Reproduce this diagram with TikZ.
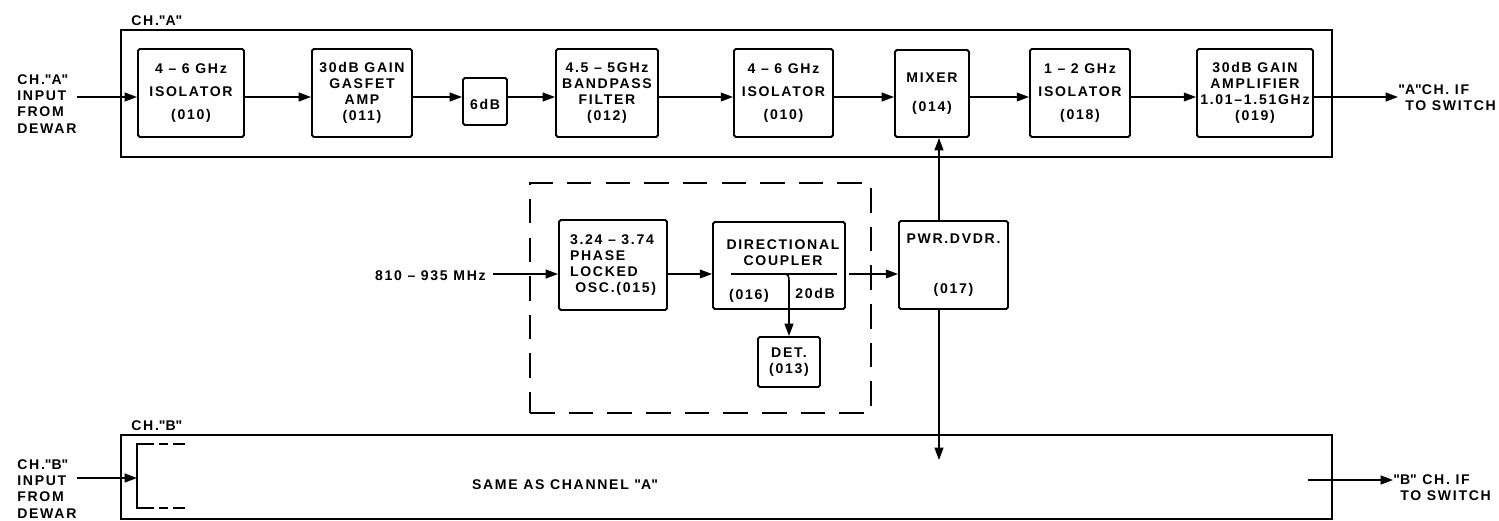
\documentclass[tikz,border=0pt]{standalone}
\usepackage{fontspec}
\setmainfont{Liberation Sans}[LetterSpace=12]
\usepackage{tikz}
\usetikzlibrary{
  positioning,
  arrows.meta,
  calc
}
\newcommand{\qt}[1]{\textquotedbl #1\textquotedbl}
\tikzset{
  >={Triangle[length=7pt,width=5pt]},
  sig/.style={->,line width=0.9pt},
  unit/.style={rectangle,draw,line width=1.1pt,rounded corners=1pt,align=center,inner sep=1pt,font=\fontsize{8}{9.2}\selectfont\bfseries},
  chan/.style={rectangle,draw,line width=1.2pt,inner sep=0pt},
  subsys/.style={rectangle,draw,line width=1.2pt,dash pattern=on 14pt off 8pt,inner sep=0pt},
  lbl/.style={align=left,inner sep=0pt,font=\fontsize{8}{9.2}\selectfont\bfseries}
}

\begin{document}
\begin{tikzpicture}[x=0.02cm, y=-0.02cm]
    \useasboundingbox (0,0) rectangle (1499,521);

    \coordinate (rowA) at (0,97);
    \coordinate (rowL) at (0,274);
    \coordinate (rowB) at (0,478);
    \coordinate (xL) at (939,0);

    \node[chan,minimum width=24.22cm,minimum height=2.54cm] (chA) at (726.5,93.5) {};
    \node[chan,minimum width=24.22cm,minimum height=1.68cm] (chB) at (726.5,477) {};
    \node[subsys,minimum width=6.82cm,minimum height=4.6cm] (pllUnit) at (700.5,298) {};
    \node[lbl,anchor=west] (chAname) at (131,21) {CH.\qt{A}};
    \node[lbl,anchor=west] (chBname) at (131,426) {CH.\qt{B}};

    \node[unit,minimum width=2.12cm,minimum height=1.76cm] (iso1) at (191,93) {4 -- 6 GHz\\[4pt]ISOLATOR\\[4pt](010)};
    \node[unit,minimum width=2.0cm,minimum height=1.76cm] (gasfet) at (362,93) {30dB GAIN\\GASFET\\AMP\\(011)};
    \node[unit,minimum width=0.88cm,minimum height=0.94cm] (att6) at (485,101.5) {\\6dB};
    \node[unit,minimum width=2.04cm,minimum height=1.76cm] (bpf) at (607,93) {4.5 -- 5GHz\\BANDPASS\\FILTER\\(012)};
    \node[unit,minimum width=1.98cm,minimum height=1.76cm] (iso2) at (783.5,93) {4 -- 6 GHz\\[4pt]ISOLATOR\\[4pt](010)};
    \node[unit,minimum width=1.48cm,minimum height=1.74cm] (mixer) at (932,93.5) {MIXER\\[7pt](014)};
    \node[unit,minimum width=2.0cm,minimum height=1.76cm] (iso3) at (1080,93) {1 -- 2 GHz\\[4pt]ISOLATOR\\[4pt](018)};
    \node[unit,minimum width=2.32cm,minimum height=1.76cm] (amp) at (1255,93) {30dB GAIN\\AMPLIFIER\\1.01--1.51GHz\\(019)};

    \node[lbl,anchor=west] (inA) at (17,104) {CH.\qt{A}\\INPUT\\FROM\\DEWAR};
    \node[lbl,anchor=west] (outA) at (1398,98) {\qt{A}CH. IF\\\hspace{4pt}TO SWITCH};

    \node[unit,align=left,minimum width=2.16cm,minimum height=1.8cm] (pll) at (613,265) {3.24 -- 3.74\\PHASE\\LOCKED\\\hspace{3pt}OSC.(015)};
    \node[unit,minimum width=2.64cm,minimum height=1.74cm] (dc) at (779,265.5) {};
    \node[lbl,align=center] (dcName) at (783,253) {DIRECTIONAL\\COUPLER};
    \node[lbl] (dcNum) at (749,296) {(016)};
    \node[lbl] (dcTap) at (815,293) {20dB};
    \node[unit,minimum width=1.24cm,minimum height=1.0cm] (det) at (789,362) {DET.\\(013)};
    \node[unit,minimum width=2.18cm,minimum height=1.76cm] (pwr) at (953.5,265) {PWR.DVDR.\\[19pt](017)};
    \node[lbl,anchor=east] (loIn) at (486,276) {810 -- 935 MHz};
    \coordinate (tapPt) at (781,274);
    \coordinate (dvB) at (939,460);

    \node[lbl,anchor=west] (inB) at (17,489) {CH.\qt{B}\\INPUT\\FROM\\DEWAR};
    \node[lbl,anchor=west] (outB) at (1393,488) {\qt{B} CH. IF\\\hspace{4pt}TO SWITCH};
    \node[lbl] (sameTxt) at (565,485) {SAME AS CHANNEL \qt{A}};
    \coordinate (bIn) at (137,478);
    \coordinate (bOut) at (1308,480);

    \draw[sig] (inA.east |- rowA) -- (iso1.west |- rowA);
    \draw[sig] (iso1.east |- rowA) -- (gasfet.west |- rowA);
    \draw[sig] (gasfet.east |- rowA) -- (att6.west |- rowA);
    \draw[sig] (att6.east |- rowA) -- (bpf.west |- rowA);
    \draw[sig] (bpf.east |- rowA) -- (iso2.west |- rowA);
    \draw[sig] (iso2.east |- rowA) -- (mixer.west |- rowA);
    \draw[sig] (mixer.east |- rowA) -- (iso3.west |- rowA);
    \draw[sig] (iso3.east |- rowA) -- (amp.west |- rowA);
    \draw[sig] (amp.east |- rowA) -- (outA.west |- rowA);

    \draw[sig] ([xshift=4pt]loIn.east |- rowL) -- (pll.west |- rowL);
    \draw[sig] (pll.east |- rowL) -- (dc.west |- rowL);
    \draw[sig] ([xshift=2pt]dc.east |- rowL) -- (pwr.west |- rowL);
    \draw[line width=0.9pt] (731,274) -- (837,274);
    \draw[sig] (tapPt) .. controls (789,274) .. (789,284) -- (det.north);
    \draw[sig] (xL |- pwr.north) -- (xL |- mixer.south);
    \draw[sig] (xL |- pwr.south) -- (dvB);

    \draw[sig] (inB.east |- rowB) -- (bIn);
    \draw[line width=0.9pt] (154,444) -- (137,444) -- (137,508) -- (154,508);
    \draw[line width=0.9pt] (159,444) -- (168,444) (173,444) -- (185,444);
    \draw[line width=0.9pt] (159,508) -- (168,508) (173,508) -- (185,508);
    \draw[sig] (bOut) -- (outB.west |- bOut);
\end{tikzpicture}
\end{document}
